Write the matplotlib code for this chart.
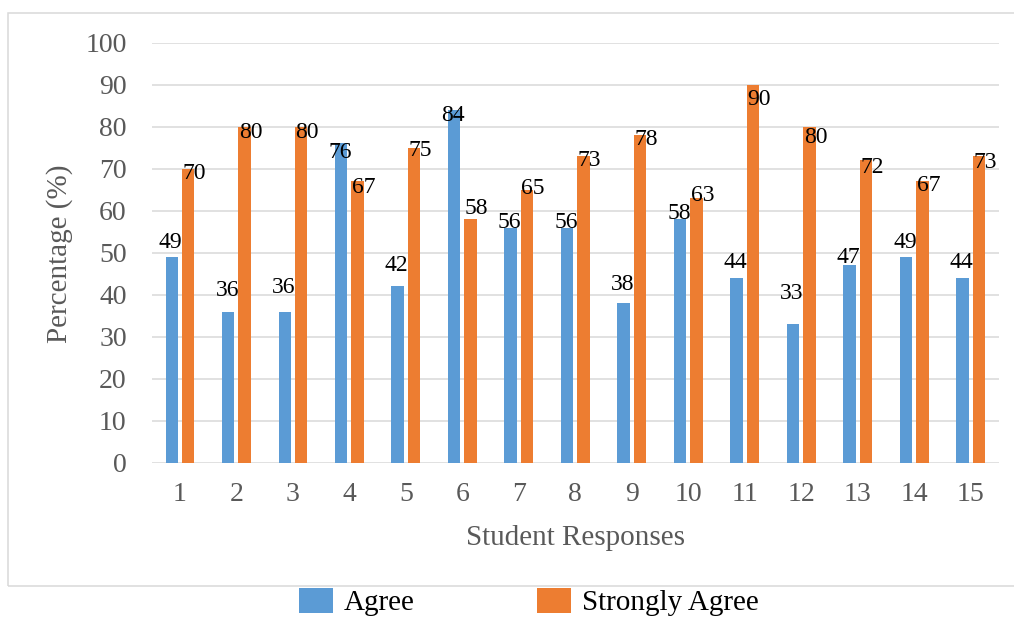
import matplotlib
matplotlib.use("Agg")
import matplotlib.pyplot as plt
from matplotlib.patches import Rectangle
import numpy as np

# Survey results per statement
responses = [str(i) for i in range(1, 16)]
agree = [49, 36, 36, 76, 42, 84, 56, 56, 38, 58, 44, 33, 47, 49, 44]
strongly_agree = [70, 80, 80, 67, 75, 58, 65, 73, 78, 63, 90, 80, 72, 67, 73]
y_ticks = list(range(0, 101, 10))

# Vertical placement of each value label (pixels from bar top to label centre)
agree_label_dy = [14, 21, 24, -9, 21, -6, 5, 5, 19, 6, 15, 31, 8, 14, 15]
strong_label_dy = [-5, -6, -6, -6, -3, 11, 1, -4, -4, 3, -15, -11, -7, -4, -6]

BLUE = "#5B9BD5"
ORANGE = "#ED7D31"
GRID = "#D9D9D9"
TXT = "#595959"
FONT = "Liberation Serif"

plt.rcParams["font.family"] = [FONT, "DejaVu Serif"]

W, H = 1014, 617
fig = plt.figure(figsize=(W / 100, H / 100), dpi=100)

ax = fig.add_axes([151.7 / W, 1 - 462.7 / H, (999 - 151.7) / W, (462.7 - 42.7) / H])

x = np.arange(len(responses))
bw = 0.22
off = 0.145
b1 = ax.bar(x - off, agree, width=bw, color=BLUE, label="Agree", zorder=3)
b2 = ax.bar(x + off, strongly_agree, width=bw, color=ORANGE, label="Strongly Agree", zorder=3)

for i, v in enumerate(agree):
    ax.annotate(str(v), (x[i] - off, v), xytext=(-1, agree_label_dy[i]),
                textcoords="offset pixels", ha="center", va="center",
                fontsize=17, color="black", zorder=5)
for i, v in enumerate(strongly_agree):
    ax.annotate(str(v), (x[i] + off, v), xytext=(6, strong_label_dy[i]),
                textcoords="offset pixels", ha="center", va="center",
                fontsize=17, color="black", zorder=5)

ax.set_xlim(-0.5, len(responses) - 0.5)
ax.set_ylim(0, 100)
ax.set_yticks(y_ticks)
ax.set_xticks(x)
ax.set_xticklabels(responses)
ax.tick_params(axis="both", length=0, labelsize=20, labelcolor=TXT)
ax.tick_params(axis="y", pad=18)
ax.tick_params(axis="x", pad=14)
ax.grid(axis="y", color=GRID, linewidth=1.1, zorder=0)
ax.set_axisbelow(True)
for s in ax.spines.values():
    s.set_visible(False)

fig.text(575.5 / W, 1 - 538 / H, "Student Responses", ha="center", va="center",
         fontsize=21, color=TXT)
fig.text(60 / W, 1 - 254 / H, "Percentage (%)", ha="center", va="center",
         rotation=90, fontsize=21, color=TXT)

# Chart frame
fig.patches.append(Rectangle((8 / W, 1 - 586 / H), 1.2, (586 - 13) / H,
                             transform=fig.transFigure, fill=False,
                             edgecolor=GRID, linewidth=1.1, clip_on=False))

fig.legend(handles=[b1, b2], labels=["Agree", "Strongly Agree"],
           loc="center left", bbox_to_anchor=(299 / W, 1 - 602 / H),
           ncol=2, frameon=False, fontsize=21, handlelength=1.16,
           handleheight=0.96, handletextpad=0.38, columnspacing=4.18,
           borderaxespad=0, borderpad=0.0)

fig.savefig("out.png", dpi=100)
